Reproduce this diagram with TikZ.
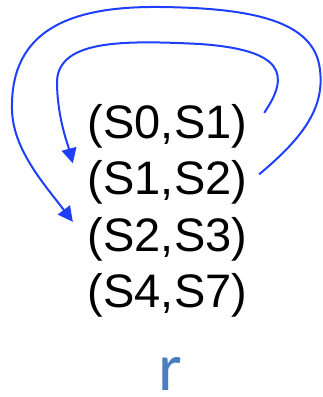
\documentclass[tikz,border=0pt]{standalone}
\usepackage{fontspec}
\setmainfont{Liberation Sans}
\newfontfamily\calfont{Carlito}
\usetikzlibrary{arrows.meta}
\definecolor{loopblue}{HTML}{1F3FFF}
\definecolor{regblue}{HTML}{4A7EC0}
\tikzset{every node/.style={inner sep=0pt,outer sep=0pt},
  pairrow/.style={anchor=base,font=\fontsize{47}{56}\selectfont},
  reglabel/.style={anchor=base,text=regblue,font=\calfont\fontsize{68}{80}\selectfont}}

\begin{document}
\begin{tikzpicture}[x=1pt,y=-1pt,
    link/.style={draw=loopblue,line width=2pt,-{Triangle[length=15pt,width=15pt]}}]
  \path[use as bounding box] (0,0) rectangle (322,397);

  % Pairs
  \node[pairrow] (s01) at (167.5,138) {(S0,S1)};
  \node[pairrow] (s12) at (167.5,194.5) {(S1,S2)};
  \node[pairrow] (s23) at (167.5,251) {(S2,S3)};
  \node[pairrow] (s47) at (167.5,307.5) {(S4,S7)};
  \node[reglabel] (r) at (170,390) {r};

  % Loops back up and over
  \draw[link] ([shift={(17,-13)}]s01.east)
    .. controls (290,75) and (285,50) .. (200,44)
    .. controls (120,40) and (55,40) .. (57,85)
    .. controls (58,120) and (68,145) .. ([shift={(-15,-19)}]s12.west);
  \draw[link] ([shift={(12,-8)}]s12.east)
    .. controls (300,140) and (325,110) .. (320,70)
    .. controls (315,20) and (250,8) .. (160,7)
    .. controls (70,6) and (10,30) .. (12,110)
    .. controls (13,150) and (45,185) .. ([shift={(-15,-17)}]s23.west);
\end{tikzpicture}
\end{document}
